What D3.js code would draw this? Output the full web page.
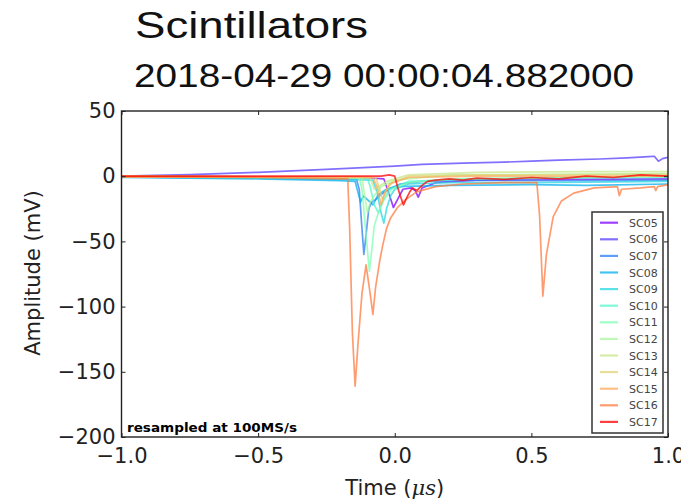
<!DOCTYPE html>
<html>
<head>
<meta charset="utf-8">
<script src="https://cdn.jsdelivr.net/npm/d3@7"></script>
<style>
  body { margin: 0; background: #fff; }
  svg { display: block; }
</style>
</head>
<body>
<svg id="chart" width="681" height="503"></svg>
<script>
// --- Data (time in µs, amplitude in mV) ---
const channels = ['SC05', 'SC06', 'SC07', 'SC08', 'SC09', 'SC10', 'SC11',
                  'SC12', 'SC13', 'SC14', 'SC15', 'SC16', 'SC17'];

const sc05 = [[-1, 0], [-0.6, -0.5], [-0.3, -1], [-0.1, -1.2], [-0.04, -2], [-0.02, -14],
  [-0.005, -24], [0.01, -18], [0.03, -10], [0.06, -9], [0.075, -11], [0.086, -16],
  [0.1, -9], [0.15, -5], [0.3, -3], [0.6, -2.5], [1, -2]];
const sc06 = [[-1, 0], [-0.75, 1.2], [-0.5, 3], [-0.25, 5.2], [0, 7.8], [0.1, 9],
  [0.25, 10], [0.4, 10.8], [0.5, 11.5], [0.6, 12.3], [0.75, 13.2], [0.85, 14],
  [0.93, 15], [0.95, 15.3], [0.965, 11.5], [0.98, 13.5], [1, 14.5]];
const sc07 = [[-1, -0.5], [-0.5, -1.5], [-0.2, -2.5], [-0.14, -2.5], [-0.13, -10],
  [-0.12, -40], [-0.113, -60], [-0.105, -45], [-0.095, -25], [-0.085, -20], [-0.07, -18],
  [-0.05, -14], [-0.02, -10], [0.02, -6], [0.1, -4], [0.3, -3], [0.6, -3.5], [1, -3]];
const sc08 = [[-1, -1], [-0.5, -2], [-0.2, -3.5], [-0.145, -4], [-0.135, -12],
  [-0.125, -20], [-0.115, -15], [-0.1, -18], [-0.08, -22], [-0.06, -14], [-0.03, -10],
  [0, -8], [0.2, -7], [0.5, -6.5], [0.7, -7], [1, -6]];
const sc09 = [[-1, -0.5], [-0.3, -2], [-0.08, -3], [-0.065, -12], [-0.05, -28],
  [-0.04, -36], [-0.03, -25], [-0.015, -15], [0, -10], [0.05, -6], [0.2, -5],
  [0.5, -5], [1, -4]];
const sc10 = [[-1, 0], [-0.4, -1], [-0.1, -1.5], [-0.09, -8], [-0.075, -22], [-0.06, -28],
  [-0.045, -20], [-0.02, -10], [0.05, -4], [0.3, -2], [1, -1]];
const sc11 = [[-1, -0.5], [-0.4, -1], [-0.13, -1.5], [-0.12, -10], [-0.105, -45],
  [-0.093, -73], [-0.083, -55], [-0.075, -38], [-0.06, -28], [-0.04, -18], [-0.01, -10],
  [0.05, -5], [0.2, -2], [1, 0]];
const sc12 = [[-1, 0], [-0.12, -1], [-0.11, -15], [-0.1, -28], [-0.09, -20],
  [-0.075, -15], [-0.05, -8], [0, -3], [0.2, 1], [1, 2]];
const sc13 = [[-1, 0], [-0.09, -1], [-0.075, -10], [-0.06, -8], [-0.03, -4], [0.05, 1],
  [0.3, 3], [0.7, 3.5], [1, 3.5]];
const sc14 = [[-1, -0.5], [-0.07, -1], [-0.055, -10], [-0.045, -18], [-0.035, -12],
  [-0.01, -5], [0.05, 0], [0.3, 1], [1, 1.5]];
const sc15 = [[-1, 0], [-0.08, -1], [-0.065, -8], [-0.05, -22], [-0.04, -15],
  [-0.02, -6], [0.05, -1], [0.3, 0], [1, 0]];
const sc16 = [[-1, -0.5], [-0.5, -1], [-0.2, -2], [-0.172, -2], [-0.165, -40],
  [-0.155, -120], [-0.145, -161], [-0.135, -130], [-0.12, -90], [-0.105, -68],
  [-0.09, -90], [-0.08, -106], [-0.07, -85], [-0.055, -65], [-0.045, -54], [-0.03, -40],
  [-0.015, -32], [0.01, -24], [0.04, -18], [0.08, -12], [0.15, -8], [0.25, -6],
  [0.4, -5], [0.52, -5], [0.53, -30], [0.542, -92], [0.555, -60], [0.58, -31],
  [0.61, -19], [0.655, -13], [0.73, -9], [0.815, -8], [0.822, -15], [0.83, -10],
  [0.9, -9], [0.95, -8], [0.955, -11], [0.962, -8], [1, -6.5]];
const sc17 = [[-1, 0], [-0.3, 0], [-0.05, 0], [-0.02, 1], [0, 0], [0.01, -8],
  [0.02, -15], [0.032, -22], [0.045, -16], [0.055, -12], [0.065, -9], [0.08, -11],
  [0.1, -7], [0.12, -4], [0.15, -3], [0.2, -2], [0.25, -3], [0.3, -1.5], [0.4, -2.5],
  [0.5, -1], [0.6, -2], [0.7, 0], [0.8, -1], [0.9, 1], [1, 0]];

const traces = [sc05, sc06, sc07, sc08, sc09, sc10, sc11, sc12, sc13, sc14, sc15, sc16, sc17];

const xTicks = [-1.0, -0.5, 0.0, 0.5, 1.0];
const yTicks = [50, 0, -50, -100, -150, -200];

const titleText = 'Scintillators';
const subtitleText = '2018-04-29 00:00:04.882000';
const noteText = 'resampled at 100MS/s';

// --- Layout / style ---
const PLOT = { left: 121.5, right: 668, top: 111, bottom: 437 };
const AXIS_FONT = '"DejaVu Sans", sans-serif';
// where each channel sits on the rainbow colormap (picked to match the legend swatches)
const CMAP_POS = [0, 0.08, 0.16, 0.24, 0.32, 0.41, 0.5, 0.58, 0.64, 0.69, 0.77, 0.84, 1.0];

// matplotlib "rainbow" colormap
function rainbow(t) {
    const c = v => Math.round(255 * Math.max(0, Math.min(1, v)));
    return `rgb(${c(Math.abs(2 * t - 0.5))},${c(Math.sin(Math.PI * t))},${c(Math.cos(Math.PI * t / 2))})`;
}
const color = i => rainbow(CMAP_POS[i]);

const svg = d3.select('#chart');

const x = d3.scaleLinear().domain([-1, 1]).range([PLOT.left, PLOT.right]);
const y = d3.scaleLinear().domain([-200, 50]).range([PLOT.bottom, PLOT.top]);

// --- Titles ---
svg.append('text')
    .attr('x', 135).attr('y', 38)
    .attr('font-family', '"Liberation Sans", Arial, sans-serif')
    .attr('font-size', 37)
    .attr('textLength', 233).attr('lengthAdjust', 'spacingAndGlyphs')
    .attr('fill', '#111')
    .text(titleText);

svg.append('text')
    .attr('x', 134).attr('y', 87)
    .attr('font-family', '"Liberation Sans", Arial, sans-serif')
    .attr('font-size', 34)
    .attr('textLength', 500).attr('lengthAdjust', 'spacingAndGlyphs')
    .attr('fill', '#111')
    .text(subtitleText);

// --- Traces ---
svg.append('clipPath').attr('id', 'plotClip')
    .append('rect')
    .attr('x', PLOT.left).attr('y', PLOT.top)
    .attr('width', PLOT.right - PLOT.left).attr('height', PLOT.bottom - PLOT.top);

const line = d3.line().x(d => x(d[0])).y(d => y(d[1]));

svg.append('g')
    .attr('clip-path', 'url(#plotClip)')
    .selectAll('path')
    .data(traces)
    .join('path')
    .attr('d', line)
    .attr('fill', 'none')
    .attr('stroke', (d, i) => color(i))
    .attr('stroke-opacity', 0.75)
    .attr('stroke-width', 1.7)
    .attr('stroke-linejoin', 'round');

// --- Axes (inward ticks on all four sides, like matplotlib classic) ---
function styleAxis(g, showLabels) {
    g.select('.domain').remove();
    g.selectAll('.tick line').attr('stroke', '#222').attr('stroke-width', 1);
    g.selectAll('.tick text')
        .attr('font-family', AXIS_FONT)
        .attr('font-size', 21)
        .attr('fill', '#222')
        .attr('display', showLabels ? null : 'none');
}

const fmtX = d => d3.format('.1f')(d).replace('-', '\u2212');
const fmtY = d => String(d).replace('-', '\u2212');

svg.append('g')
    .attr('transform', `translate(0,${PLOT.bottom})`)
    .call(d3.axisBottom(x).tickValues(xTicks).tickFormat(fmtX).tickSize(-4).tickPadding(11))
    .call(g => styleAxis(g, true));

svg.append('g')
    .attr('transform', `translate(0,${PLOT.top})`)
    .call(d3.axisTop(x).tickValues(xTicks).tickSize(-4))
    .call(g => styleAxis(g, false));

svg.append('g')
    .attr('transform', `translate(${PLOT.left},0)`)
    .call(d3.axisLeft(y).tickValues(yTicks).tickFormat(fmtY).tickSize(-4).tickPadding(6))
    .call(g => styleAxis(g, true));

svg.append('g')
    .attr('transform', `translate(${PLOT.right},0)`)
    .call(d3.axisRight(y).tickValues(yTicks).tickSize(-4))
    .call(g => styleAxis(g, false));

// Frame
svg.append('rect')
    .attr('x', PLOT.left).attr('y', PLOT.top)
    .attr('width', PLOT.right - PLOT.left).attr('height', PLOT.bottom - PLOT.top)
    .attr('fill', 'none')
    .attr('stroke', '#222')
    .attr('stroke-width', 1.4);

// Axis labels
const xLabel = svg.append('text')
    .attr('x', (PLOT.left + PLOT.right) / 2).attr('y', 495)
    .attr('text-anchor', 'middle')
    .attr('font-family', AXIS_FONT)
    .attr('font-size', 21)
    .attr('fill', '#222');
xLabel.append('tspan').text('Time (');
xLabel.append('tspan').attr('font-style', 'italic').attr('font-family', '"DejaVu Serif", serif').text('\u03bcs');
xLabel.append('tspan').text(')');

svg.append('text')
    .attr('transform', `translate(40,${(PLOT.top + PLOT.bottom) / 2 - 1}) rotate(-90)`)
    .attr('text-anchor', 'middle')
    .attr('font-family', AXIS_FONT)
    .attr('font-size', 21)
    .attr('fill', '#222')
    .text('Amplitude (mV)');

// Note in the lower-left corner
svg.append('text')
    .attr('x', 127).attr('y', 432)
    .attr('font-family', AXIS_FONT)
    .attr('font-size', 12)
    .attr('font-weight', 'bold')
    .attr('textLength', 170).attr('lengthAdjust', 'spacingAndGlyphs')
    .attr('fill', '#000')
    .text(noteText);

// --- Legend ---
const LEG = { x: 592, y: 212, w: 71, h: 221, row: 16.6, first: 10.7 };
const legend = svg.append('g').attr('transform', `translate(${LEG.x},${LEG.y})`);

legend.append('rect')
    .attr('width', LEG.w).attr('height', LEG.h)
    .attr('fill', '#fff')
    .attr('stroke', '#333')
    .attr('stroke-width', 1.5);

const items = legend.selectAll('g.item')
    .data(channels)
    .join('g')
    .attr('class', 'item')
    .attr('transform', (d, i) => `translate(0,${LEG.first + i * LEG.row})`);

items.append('line')
    .attr('x1', 8).attr('x2', 26)
    .attr('stroke', (d, i) => color(i))
    .attr('stroke-opacity', 0.75)
    .attr('stroke-width', 2.2);

items.append('text')
    .attr('x', 37).attr('y', 4)
    .attr('font-family', AXIS_FONT)
    .attr('font-size', 11)
    .attr('fill', '#444')
    .text(d => d);
</script>
</body>
</html>
